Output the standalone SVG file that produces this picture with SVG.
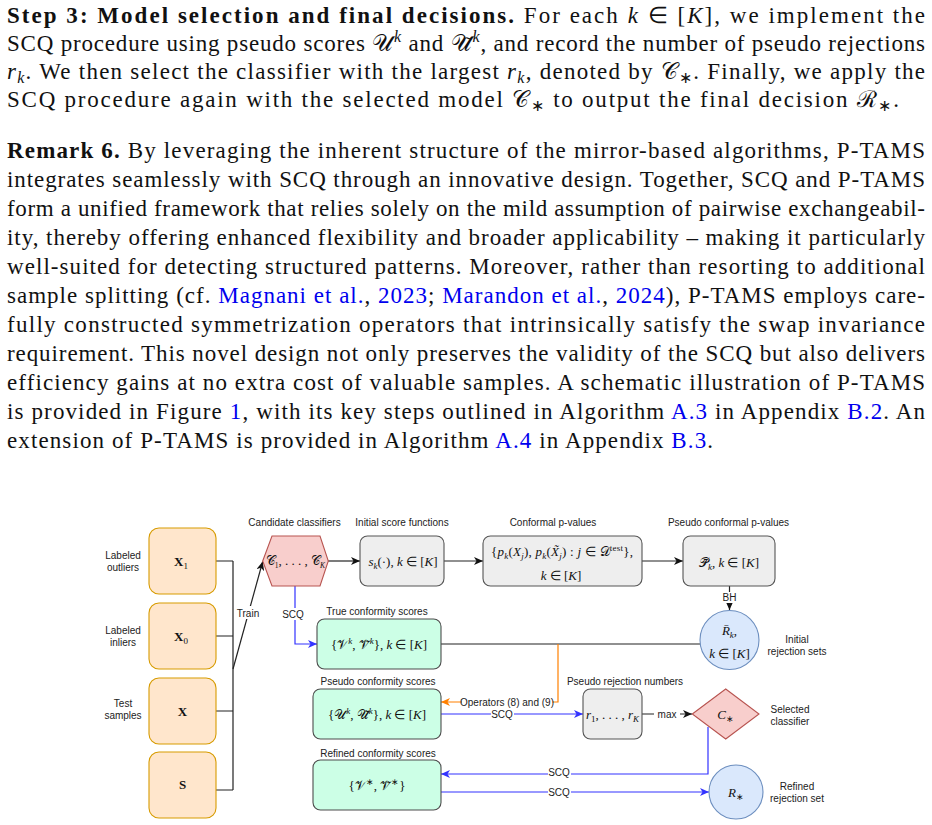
<svg xmlns="http://www.w3.org/2000/svg" width="932" height="825" viewBox="0 0 932 825">
  <defs>
    <style>
      .p{font-family:"Liberation Serif","Times New Roman",serif;font-size:23px;fill:#111}
      .b{font-weight:bold}
      .i{font-style:italic}
      .lk{fill:#0000ee}
      .sm{font-size:16px}
      .lbl{font-family:"Liberation Sans",Arial,sans-serif;font-size:10px;fill:#222;text-anchor:middle}
      .elbl{font-family:"Liberation Sans",Arial,sans-serif;font-size:10px;fill:#222;text-anchor:middle}
      .m{font-family:"Liberation Serif","Times New Roman",serif;font-size:13px;fill:#111;text-anchor:middle}
      .mb{font-family:"Liberation Serif","Times New Roman",serif;font-size:13px;font-weight:bold;fill:#111;text-anchor:middle}
      .orange{fill:#ffe6cc;stroke:#d79b00;stroke-width:1.1}
      .red{fill:#f8cecc;stroke:#b85450;stroke-width:1.1}
      .gray{fill:#eeeeee;stroke:#555;stroke-width:1.1}
      .green{fill:#ccffe6;stroke:#4d4d4d;stroke-width:1.1}
      .bluef{fill:#dae8fc;stroke:#6c8ebf;stroke-width:1.1}
      .wk{fill:none;stroke:#222;stroke-width:1.2}
      .wb{fill:none;stroke:#3333ff;stroke-width:1.2}
      .wo{fill:none;stroke:#ff8000;stroke-width:1.2}
      .bg{fill:#fff}
    </style>
    <marker id="ahK" markerWidth="10" markerHeight="8" refX="9" refY="4" orient="auto" markerUnits="userSpaceOnUse">
      <path d="M0,0 L9,4 L0,8 L2.5,4 z" fill="#111"/>
    </marker>
    <marker id="ahB" markerWidth="10" markerHeight="8" refX="9" refY="4" orient="auto" markerUnits="userSpaceOnUse">
      <path d="M0,0 L9,4 L0,8 L2.5,4 z" fill="#3333ff"/>
    </marker>
    <marker id="ahO" markerWidth="10" markerHeight="8" refX="9" refY="4" orient="auto" markerUnits="userSpaceOnUse">
      <path d="M0,0 L9,4 L0,8 L2.5,4 z" fill="#ff8000"/>
    </marker>
  </defs>

  <rect width="932" height="825" fill="#ffffff"/>

  <!-- Step 3 paragraph -->
  <g id="step3">
    <text class="p" x="7" y="23" textLength="918" lengthAdjust="spacing"><tspan class="b">Step 3: Model selection and final decisions.</tspan> For each <tspan class="i">k</tspan> ∈ [<tspan class="i">K</tspan>], we implement the</text>
    <text class="p" x="7" y="51" textLength="918" lengthAdjust="spacing">SCQ procedure using pseudo scores 𝒰<tspan class="sm i" dy="-9">k</tspan><tspan dy="9"> and </tspan>𝒰̃<tspan class="sm i" dy="-9">k</tspan><tspan dy="9">, and record the number of pseudo rejections</tspan></text>
    <text class="p" x="7" y="79" textLength="918" lengthAdjust="spacing"><tspan class="i">r</tspan><tspan class="sm i" dy="4">k</tspan><tspan dy="-4">. We then select the classifier with the largest </tspan><tspan class="i">r</tspan><tspan class="sm i" dy="4">k</tspan><tspan dy="-4">, denoted by 𝒞</tspan><tspan class="sm" dy="4">∗</tspan><tspan dy="-4">. Finally, we apply the</tspan></text>
    <text class="p" x="7" y="107" textLength="892" lengthAdjust="spacing">SCQ procedure again with the selected model 𝒞<tspan class="sm" dy="4">∗</tspan><tspan dy="-4"> to output the final decision ℛ</tspan><tspan class="sm" dy="4">∗</tspan><tspan dy="-4">.</tspan></text>
  </g>

  <!-- Remark 6 paragraph -->
  <g id="remark6">
    <text class="p" x="7" y="158" textLength="918" lengthAdjust="spacing"><tspan class="b">Remark 6.</tspan> By leveraging the inherent structure of the mirror-based algorithms, P-TAMS</text>
    <text class="p" x="7" y="187" textLength="918" lengthAdjust="spacing">integrates seamlessly with SCQ through an innovative design. Together, SCQ and P-TAMS</text>
    <text class="p" x="7" y="216" textLength="918" lengthAdjust="spacing">form a unified framework that relies solely on the mild assumption of pairwise exchangeabil-</text>
    <text class="p" x="7" y="245" textLength="918" lengthAdjust="spacing">ity, thereby offering enhanced flexibility and broader applicability – making it particularly</text>
    <text class="p" x="7" y="274" textLength="918" lengthAdjust="spacing">well-suited for detecting structured patterns. Moreover, rather than resorting to additional</text>
    <text class="p" x="7" y="303" textLength="918" lengthAdjust="spacing">sample splitting (cf. <tspan class="lk">Magnani et al.</tspan>, <tspan class="lk">2023</tspan>; <tspan class="lk">Marandon et al.</tspan>, <tspan class="lk">2024</tspan>), P-TAMS employs care-</text>
    <text class="p" x="7" y="332" textLength="918" lengthAdjust="spacing">fully constructed symmetrization operators that intrinsically satisfy the swap invariance</text>
    <text class="p" x="7" y="361" textLength="918" lengthAdjust="spacing">requirement. This novel design not only preserves the validity of the SCQ but also delivers</text>
    <text class="p" x="7" y="390" textLength="918" lengthAdjust="spacing">efficiency gains at no extra cost of valuable samples. A schematic illustration of P-TAMS</text>
    <text class="p" x="7" y="419" textLength="918" lengthAdjust="spacing">is provided in Figure <tspan class="lk">1</tspan>, with its key steps outlined in Algorithm <tspan class="lk">A.3</tspan> in Appendix <tspan class="lk">B.2</tspan>. An</text>
    <text class="p" x="7" y="448" textLength="706" lengthAdjust="spacing">extension of P-TAMS is provided in Algorithm <tspan class="lk">A.4</tspan> in Appendix <tspan class="lk">B.3</tspan>.</text>
  </g>

  <!-- Connectors -->
  <g id="connectors">
    <!-- data boxes into the training bus -->
    <path class="wk" d="M216,561 H233 M216,636 H233 M216,711 H233 M216,790 H233 M233,561 V790"/>
    <path class="wk" d="M233,669 L262.7,561.5" marker-end="url(#ahK)"/>
    <!-- top pipeline -->
    <path class="wk" d="M328,561 H360" marker-end="url(#ahK)"/>
    <path class="wk" d="M444,561 H483" marker-end="url(#ahK)"/>
    <path class="wk" d="M642,561 H683" marker-end="url(#ahK)"/>
    <path class="wk" d="M729.5,586 V610" marker-end="url(#ahK)"/>
    <!-- true scores to initial rejection sets -->
    <path class="wk" d="M441,644 H700"/>
    <!-- SCQ from classifiers -->
    <path class="wb" d="M295,586 V644 H317" marker-end="url(#ahB)"/>
    <!-- symmetrization operators -->
    <path class="wo" d="M558,644 V702 H441" marker-end="url(#ahO)"/>
    <!-- pseudo scores to rejection numbers -->
    <path class="wb" d="M441,714 H583" marker-end="url(#ahB)"/>
    <path class="wk" d="M642,714 H692" marker-end="url(#ahK)"/>
    <!-- selected classifier back to refined scores -->
    <path class="wb" d="M708,727 V774 H441" marker-end="url(#ahB)"/>
    <path class="wb" d="M441,792 H709" marker-end="url(#ahB)"/>

    <!-- edge labels -->
    <rect class="bg" x="235" y="606" width="27" height="13"/>
    <text class="elbl" x="248" y="616.5">Train</text>
    <rect class="bg" x="282" y="608" width="23" height="12"/>
    <text class="elbl" x="293" y="617.5">SCQ</text>
    <rect class="bg" x="721" y="592" width="17" height="11"/>
    <text class="elbl" x="729.5" y="600.5">BH</text>
    <rect class="bg" x="462" y="696" width="90" height="12"/>
    <text class="elbl" x="507" y="705.5">Operators (8) and (9)</text>
    <rect class="bg" x="491" y="709" width="23" height="11"/>
    <text class="elbl" x="502" y="717.5">SCQ</text>
    <rect class="bg" x="654" y="709" width="26" height="11"/>
    <text class="elbl" x="667" y="717.5">max</text>
    <rect class="bg" x="548" y="767" width="23" height="11"/>
    <text class="elbl" x="559" y="775.5">SCQ</text>
    <rect class="bg" x="548" y="787" width="23" height="11"/>
    <text class="elbl" x="559" y="795.5">SCQ</text>
  </g>

  <!-- Input data -->
  <g id="labeled-outliers">
    <rect class="orange" x="149" y="528" width="67" height="66" rx="10"/>
    <text class="mb" x="181" y="566">X<tspan font-size="9" font-weight="normal" dy="3">1</tspan></text>
    <text class="lbl" x="123" y="558.5">Labeled</text>
    <text class="lbl" x="123" y="571">outliers</text>
  </g>
  <g id="labeled-inliers">
    <rect class="orange" x="149" y="603" width="67" height="66" rx="10"/>
    <text class="mb" x="181" y="641">X<tspan font-size="9" font-weight="normal" dy="3">0</tspan></text>
    <text class="lbl" x="123" y="633.5">Labeled</text>
    <text class="lbl" x="123" y="646">inliers</text>
  </g>
  <g id="test-samples">
    <rect class="orange" x="149" y="678" width="67" height="66" rx="10"/>
    <text class="mb" x="182.5" y="715.5">X</text>
    <text class="lbl" x="123" y="707">Test</text>
    <text class="lbl" x="123" y="719">samples</text>
  </g>
  <g id="sample-s">
    <rect class="orange" x="149" y="752" width="67" height="66" rx="10"/>
    <text class="mb" x="182.5" y="789">S</text>
  </g>

  <!-- Candidate classifiers -->
  <g id="classifiers">
    <polygon class="red" points="262.7,561 272,536 320,536 328.3,561 320,586 272,586"/>
    <text class="lbl" x="294.5" y="525.5">Candidate classifiers</text>
    <text class="m" x="295.5" y="565" font-size="11">𝒞<tspan font-size="7.5" dy="3">1</tspan><tspan dy="-3">, . . . , 𝒞</tspan><tspan class="i" font-size="7.5" dy="3">K</tspan></text>
  </g>

  <!-- Initial score functions -->
  <g id="score-functions">
    <rect class="gray" x="360" y="536" width="84" height="50" rx="7.5"/>
    <text class="lbl" x="402" y="525.5">Initial score functions</text>
    <text class="m" x="403" y="565.5"><tspan class="i">s</tspan><tspan class="i" font-size="9" dy="3">k</tspan><tspan dy="-3">(·), </tspan><tspan class="i">k</tspan> ∈ [<tspan class="i">K</tspan>]</text>
  </g>

  <!-- Conformal p-values -->
  <g id="conformal-p">
    <rect class="gray" x="483" y="536" width="159" height="50" rx="7.5"/>
    <text class="lbl" x="553" y="525.5">Conformal p-values</text>
    <text class="m" x="562" y="556" textLength="142" lengthAdjust="spacing">{<tspan class="i">p</tspan><tspan class="i" font-size="9" dy="3">k</tspan><tspan dy="-3">(</tspan><tspan class="i">X</tspan><tspan class="i" font-size="9" dy="3">j</tspan><tspan dy="-3">), </tspan><tspan class="i">p</tspan><tspan class="i" font-size="9" dy="3">k</tspan><tspan dy="-3">(</tspan><tspan class="i">X̃</tspan><tspan class="i" font-size="9" dy="3">j</tspan><tspan dy="-3">) : </tspan><tspan class="i">j</tspan> ∈ 𝒟<tspan font-size="9" dy="-5">test</tspan><tspan dy="5">},</tspan></text>
    <text class="m" x="561" y="579.5"><tspan class="i">k</tspan> ∈ [<tspan class="i">K</tspan>]</text>
  </g>

  <!-- Pseudo conformal p-values -->
  <g id="pseudo-p">
    <rect class="gray" x="683" y="536" width="92" height="50" rx="7.5"/>
    <text class="lbl" x="728.5" y="525.5">Pseudo conformal p-values</text>
    <text class="m" x="729" y="566.5">𝒫̄<tspan class="i" font-size="9" dy="3">k</tspan><tspan dy="-3">, </tspan><tspan class="i">k</tspan> ∈ [<tspan class="i">K</tspan>]</text>
  </g>

  <!-- Initial rejection sets -->
  <g id="initial-rejections">
    <circle class="bluef" cx="729.5" cy="640" r="29.5"/>
    <text class="m" x="729.5" y="634.5"><tspan class="i">R̄</tspan><tspan class="i" font-size="9" dy="3">k</tspan><tspan dy="-3">,</tspan></text>
    <text class="m" x="729.5" y="657.5"><tspan class="i">k</tspan> ∈ [<tspan class="i">K</tspan>]</text>
    <text class="lbl" x="797" y="642.5">Initial</text>
    <text class="lbl" x="797" y="654.5">rejection sets</text>
  </g>

  <!-- True conformity scores -->
  <g id="true-scores">
    <rect class="green" x="317" y="619" width="124" height="50" rx="7.5"/>
    <text class="lbl" x="377" y="614.5">True conformity scores</text>
    <text class="m" x="379" y="648.5">{𝒱<tspan class="i" font-size="9" dy="-5">k</tspan><tspan dy="5">, 𝒱̃</tspan><tspan class="i" font-size="9" dy="-5">k</tspan><tspan dy="5">}, </tspan><tspan class="i">k</tspan> ∈ [<tspan class="i">K</tspan>]</text>
  </g>

  <!-- Pseudo conformity scores -->
  <g id="pseudo-scores">
    <rect class="green" x="313" y="689" width="128" height="50" rx="7.5"/>
    <text class="lbl" x="378" y="685">Pseudo conformity scores</text>
    <text class="m" x="377" y="718.5">{𝒰<tspan class="i" font-size="9" dy="-5">k</tspan><tspan dy="5">, 𝒰̃</tspan><tspan class="i" font-size="9" dy="-5">k</tspan><tspan dy="5">}, </tspan><tspan class="i">k</tspan> ∈ [<tspan class="i">K</tspan>]</text>
  </g>

  <!-- Pseudo rejection numbers -->
  <g id="rejection-numbers">
    <rect class="gray" x="583" y="689" width="59" height="50" rx="7.5"/>
    <text class="lbl" x="625" y="685">Pseudo rejection numbers</text>
    <text class="m" x="612.5" y="718.5"><tspan class="i">r</tspan><tspan font-size="9" dy="3">1</tspan><tspan dy="-3">, . . . , </tspan><tspan class="i">r</tspan><tspan class="i" font-size="9" dy="3">K</tspan></text>
  </g>

  <!-- Selected classifier -->
  <g id="selected-classifier">
    <polygon class="red" points="692.3,714 725.7,689 759,714 725.7,739"/>
    <text class="m" x="725.7" y="718.5"><tspan class="i">C</tspan><tspan font-size="9" dy="3">∗</tspan></text>
    <text class="lbl" x="790" y="712.5">Selected</text>
    <text class="lbl" x="790" y="724.5">classifier</text>
  </g>

  <!-- Refined conformity scores -->
  <g id="refined-scores">
    <rect class="green" x="313" y="760" width="128" height="50" rx="7.5"/>
    <text class="lbl" x="378" y="756.5">Refined conformity scores</text>
    <text class="m" x="377" y="789.5">{𝒱<tspan font-size="9" dy="-5">∗</tspan><tspan dy="5">, 𝒱̃</tspan><tspan font-size="9" dy="-5">∗</tspan><tspan dy="5">}</tspan></text>
  </g>

  <!-- Refined rejection set -->
  <g id="refined-rejection">
    <circle class="bluef" cx="736" cy="792" r="27"/>
    <text class="m" x="736" y="796.5"><tspan class="i">R</tspan><tspan font-size="9" dy="3">∗</tspan></text>
    <text class="lbl" x="797" y="789.5">Refined</text>
    <text class="lbl" x="797" y="801.5">rejection set</text>
  </g>
</svg>
